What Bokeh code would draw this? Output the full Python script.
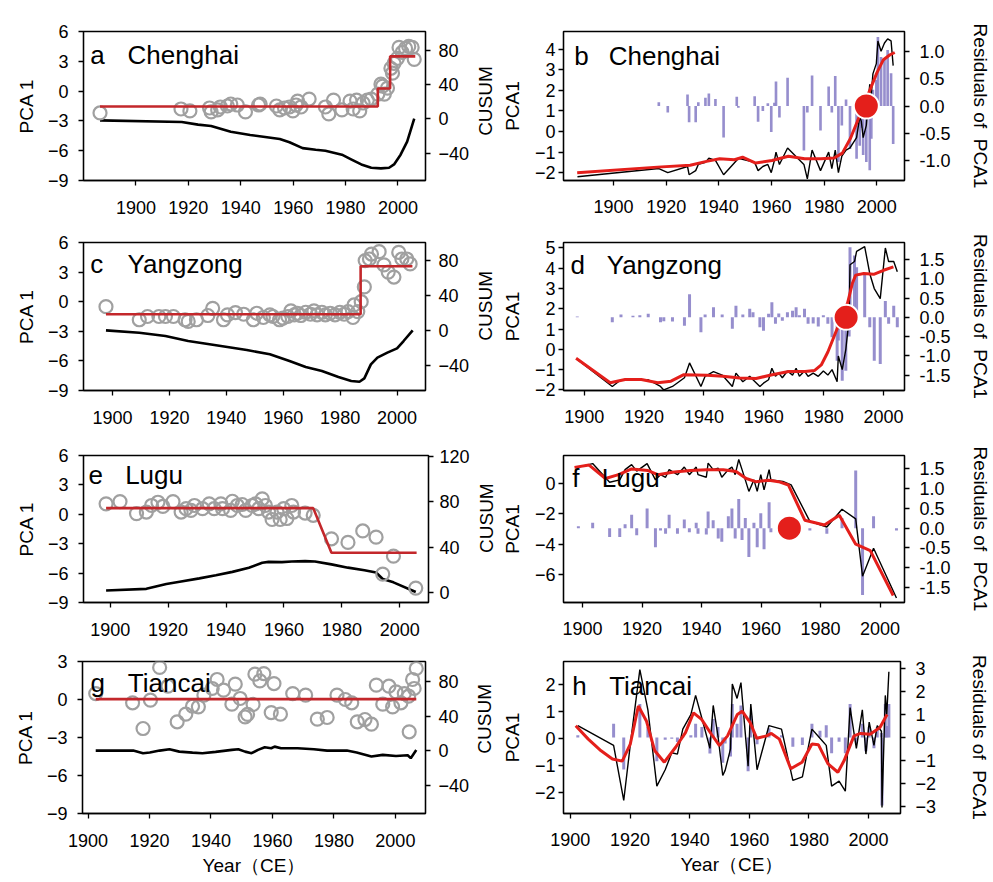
import math
from bokeh.plotting import figure
from bokeh.models import Range1d, LinearAxis, FixedTicker, Label, NumeralTickFormatter
from bokeh.layouts import column, row
from bokeh.embed import file_html
from bokeh.resources import INLINE

FONT = "Liberation Sans"
RED = "#e41f1b"
STEP_RED = "#c3272b"
PURPLE = "#8b82c8"
GRAY = "#a0a0a0"

X_TICKS = [1900, 1920, 1940, 1960, 1980, 2000]

# ---------------- Chenghai ----------------
ch_year = [1886.3, 1917.2, 1920.6, 1928.1, 1928.7, 1931.2, 1932.2, 1934.9, 1936.2, 1938.7,
           1941.8, 1946.8, 1947.4, 1953.6, 1954.9, 1956.7, 1958.6, 1959.9, 1961.1, 1961.7,
           1963.0, 1966.1, 1972.3, 1973.6, 1975.4, 1978.6, 1981.7, 1982.9, 1984.2, 1985.4,
           1986.7, 1988.3, 1989.8, 1992.3, 1993.5, 1994.1, 1994.8, 1996.0, 1997.3, 1997.9,
           1998.5, 1999.8, 2000.4, 2001.6, 2002.9, 2004.1, 2005.4, 2006.2]
ch_pca = [-2.2, -1.8, -2.0, -1.7, -2.1, -1.9, -1.6, -1.5, -1.3, -1.4,
          -2.1, -1.4, -1.3, -1.5, -1.9, -1.7, -1.6, -2.0, -1.4, -1.0,
          -1.6, -0.8, -1.6, -2.3, -0.9, -1.9, -1.0, -1.8, -0.9, -2.0,
          -1.2, -0.9, -0.8, -0.3, 0.7, 0.5, -0.3, 0.3, 2.3, 1.8,
          2.8, 3.3, 4.4, 3.9, 4.3, 4.5, 4.4, 3.2]
ch_resid = [0.0, 0.07, -0.12, 0.21, -0.3, -0.3, 0.07, 0.15, 0.23, 0.13,
            -0.58, 0.17, -0.03, 0.18, -0.29, -0.09, 0.05, -0.48, 0.06, 0.45,
            -0.21, 0.52, -0.82, -0.12, 0.56, -0.45, 0.36, -0.12, 0.55, -1.03,
            -0.36, 0.12, -0.79, -0.97, -0.73, -0.4, -0.9, -1.03, -1.18, -0.6,
            0.3, 0.48, 1.27, 0.9, 0.85, 1.03, 0.6, -0.7]
ch_fit_year = [1886.2, 1916.7, 1929.1, 1935.3, 1940.3, 1945.9, 1949.0, 1954.0, 1960.2, 1966.4,
               1972.6, 1978.8, 1983.8, 1986.9, 1990.0, 1992.5, 1995.0, 1997.5, 2000.0, 2002.5,
               2005.0, 2006.8]
ch_fit = [-2.0, -1.73, -1.64, -1.45, -1.32, -1.37, -1.25, -1.53, -1.41, -1.2,
          -1.32, -1.32, -1.29, -1.05, -0.33, 0.46, 1.26, 2.06, 2.85, 3.49,
          3.73, 3.84]
ch_cusum_year = [1886.3, 1917.5, 1923.7, 1928.7, 1936.2, 1943.6, 1948.6, 1954.9, 1958.6, 1963.6,
                 1968.6, 1972.3, 1978.6, 1982.3, 1986.0, 1989.8, 1993.5, 1996.6, 1998.5, 2001.0,
                 2003.5, 2006.2]
ch_cusum = [-1.9, -3.8, -6.9, -8.4, -15.2, -19.0, -21.0, -23.6, -27.4, -34.3,
            -36.2, -37.3, -41.9, -47.6, -53.3, -57.1, -57.9, -57.1, -53.3, -41.9,
            -26.7, 0.0]
ch_step_year = [1886.3, 1992.3, 1992.3, 1997.0, 1997.0, 2006.6]
ch_step = [-1.55, -1.55, 0.26, 0.26, 3.5, 3.5]
ch_cp_year = [1996.0]
ch_cp_res = [0.0]

# ---------------- Yangzong ----------------
yz_year = [1897.7, 1909.4, 1912.3, 1916.3, 1918.6, 1921.4, 1925.5, 1926.6, 1929.5, 1933.5,
           1935.2, 1939.0, 1940.4, 1943.2, 1946.1, 1949.5, 1950.7, 1953.0, 1955.3, 1956.4,
           1958.7, 1959.9, 1961.6, 1962.7, 1963.9, 1965.0, 1966.2, 1967.9, 1969.6, 1970.8,
           1971.9, 1973.6, 1974.8, 1976.5, 1978.2, 1979.9, 1981.4, 1982.8, 1984.5, 1984.9,
           1986.2, 1987.4, 1988.5, 1988.8, 1990.3, 1991.0, 1993.7, 1995.4, 1996.9, 1998.9,
           2000.6, 2001.7, 2003.4, 2004.6]
yz_pca = [-0.5, -1.83, -1.5, -1.5, -1.5, -1.5, -1.83, -2.0, -1.83, -1.4,
          -0.67, -1.83, -1.33, -1.1, -1.27, -1.83, -1.17, -1.6, -1.33, -1.5,
          -1.83, -1.67, -1.5, -0.93, -1.33, -1.17, -1.4, -1.07, -1.27, -0.93,
          -1.33, -1.07, -1.33, -1.17, -1.33, -1.07, -1.27, -1.0, -1.6, -0.33,
          -1.0, 0.0, 1.5, 4.17, 4.33, 4.83, 5.07, 3.73, 3.0, 2.5,
          5.0, 4.33, 4.33, 3.83]
yz_resid = [0.02, -0.13, 0.07, 0.04, 0.05, 0.09, -0.13, -0.1, -0.11, -0.22,
            0.6, -0.39, 0.07, 0.26, 0.07, -0.3, 0.3, 0.07, 0.22, 0.13,
            -0.26, -0.35, 0.09, 0.39, -0.17, 0.1, -0.09, 0.13, 0.17, 0.26,
            0.05, 0.22, -0.17, -0.16, -0.24, 0.05, -0.17, -0.52, -1.13, -0.6,
            -1.65, -1.39, -0.5, 1.82, 1.6, 1.3, 1.1, -0.26, -1.13, -1.21,
            0.42, -0.17, 0.3, -0.26]
yz_fit_year = [1897.3, 1908.7, 1913.7, 1919.1, 1924.6, 1929.0, 1933.3, 1941.0, 1946.4, 1951.9,
               1957.4, 1962.8, 1968.3, 1973.8, 1977.0, 1979.2, 1981.4, 1983.6, 1985.8, 1988.0,
               1989.6, 1990.7, 1993.4, 1996.7, 2000.0, 2003.3]
yz_fit = [-0.44, -1.65, -1.49, -1.49, -1.65, -1.57, -1.25, -1.28, -1.33, -1.41,
          -1.44, -1.25, -1.09, -1.09, -1.04, -0.77, -0.13, 0.68, 1.49, 2.29,
          3.26, 3.66, 3.74, 3.7, 3.9, 4.07]
yz_cusum_year = [1897.7, 1909.4, 1918.6, 1926.6, 1935.8, 1947.2, 1955.3, 1962.2, 1967.9, 1973.6,
                 1979.4, 1983.9, 1986.8, 1988.5, 1990.8, 1993.1, 1996.6, 2000.0, 2002.3, 2005.5]
yz_cusum = [0.0, -2.7, -6.5, -12.2, -16.8, -22.5, -27.4, -35.0, -41.9, -46.5,
            -53.3, -57.9, -58.7, -54.9, -38.9, -31.2, -25.5, -20.6, -12.2, 0.0]
yz_step_year = [1897.7, 1987.2, 1987.2, 2005.4]
yz_step = [-1.27, -1.27, 3.6, 3.6]
yz_cp_year = [1987.5]
yz_cp_res = [0.0]

# ---------------- Lugu ----------------
lg_year = [1898.6, 1903.4, 1909.1, 1912.5, 1914.3, 1916.5, 1918.2, 1921.7, 1924.5, 1926.2,
           1927.9, 1929.1, 1931.9, 1934.2, 1935.9, 1938.2, 1938.8, 1941.6, 1942.2, 1943.9,
           1945.6, 1946.8, 1949.0, 1950.2, 1951.3, 1952.5, 1953.6, 1954.7, 1955.9, 1957.6,
           1958.7, 1959.9, 1961.0, 1962.7, 1963.3, 1967.3, 1970.1, 1976.4, 1982.1, 1987.2,
           1991.8, 1994.1, 1997.8, 2005.5]
lg_pca = [1.07, 1.3, 0.07, 0.23, 0.9, 1.23, 0.8, 1.3, 0.23, 0.57,
          0.4, 0.9, 0.57, 1.07, 0.57, 1.07, 0.57, 0.4, 1.33, 0.9,
          1.0, 0.4, 0.9, 1.07, 0.57, 1.57, 0.9, 0.23, -0.53, 0.23,
          -0.53, 0.57, -0.43, 0.9, 0.23, 0.13, -0.1, -2.5, -2.87, -1.7,
          -2.33, -6.1, -4.27, -7.53]
lg_resid = [0.05, 0.14, -0.22, -0.22, 0.1, 0.34, -0.18, 0.5, -0.48, -0.06,
            -0.14, 0.34, -0.14, 0.22, -0.1, 0.14, -0.14, -0.16, 0.42, 0.2,
            -0.26, -0.34, 0.3, 0.5, -0.26, 0.74, -0.3, 0.26, -0.73, 0.14,
            -0.48, 0.38, -0.53, 0.66, -0.1, 0.0, 0.0, -0.06, -0.14, 0.26,
            1.46, -1.69, 0.3, -0.06]
lg_fit_year = [1897.3, 1902.2, 1907.7, 1912.1, 1916.5, 1922.0, 1925.3, 1930.8, 1936.3, 1941.8,
               1947.3, 1951.6, 1955.0, 1958.2, 1962.6, 1965.9, 1969.2, 1974.7, 1981.3, 1986.3,
               1991.8, 1996.7, 2004.4]
lg_fit = [1.05, 1.2, 0.32, 0.57, 0.95, 0.84, 0.57, 0.74, 0.84, 0.9,
          0.9, 0.78, 0.32, 0.11, 0.21, 0.11, -0.11, -2.42, -2.74, -2.1,
          -4.0, -4.42, -7.37]
lg_cusum_year = [1898.6, 1912.5, 1919.4, 1924.0, 1930.8, 1936.5, 1942.2, 1947.9, 1952.5, 1954.7,
                 1959.3, 1962.7, 1967.3, 1970.7, 1976.4, 1982.1, 1987.8, 1991.8, 1994.1, 1997.8,
                 2005.5]
lg_cusum = [2.0, 3.4, 7.7, 9.7, 12.6, 15.4, 18.3, 22.0, 26.3, 27.1,
            26.9, 27.4, 27.7, 27.4, 24.9, 22.0, 19.7, 17.7, 12.0, 9.1,
            0.6]
lg_step_year = [1898.6, 1970.1, 1976.4, 2005.8]
lg_step = [0.63, 0.63, -3.93, -3.93]
lg_cp_year = [1969.5]
lg_cp_res = [0.0]

# ---------------- Tiancai ----------------
tc_year = [1902.5, 1914.5, 1917.9, 1920.3, 1923.3, 1926.0, 1929.0, 1931.8, 1934.0, 1935.9,
           1937.7, 1940.4, 1942.0, 1944.1, 1946.8, 1947.9, 1949.5, 1951.1, 1951.9, 1953.7,
           1954.3, 1955.9, 1957.2, 1959.6, 1960.5, 1962.6, 1966.6, 1970.8, 1974.6, 1977.8,
           1981.0, 1983.7, 1985.8, 1987.6, 1990.1, 1992.2, 1993.8, 1995.9, 1997.9, 1999.1,
           2000.2, 2001.8, 2002.9, 2004.3, 2004.5, 2005.6, 2006.1, 2006.8]
tc_pca = [0.47, -0.26, -2.29, -0.05, 2.53, 1.05, -1.76, -1.16, -0.53, -0.58,
          0.34, 0.87, 1.58, 0.74, -0.37, 1.21, 0.08, -1.37, -1.18, -0.39,
          2.0, 1.47, 2.05, -1.03, 1.26, -1.16, 0.47, 0.34, -1.55, -1.42,
          0.34, 0.0, -0.26, -1.76, -1.58, -1.95, 1.13, -0.37, 1.05, -0.58,
          0.6, -0.26, 0.47, 0.26, -2.55, 1.58, 0.87, 2.45]
tc_resid = [0.1, 0.6, -1.4, 0.0, 1.46, 0.46, -1.04, -0.1, -0.05, -0.2,
            0.1, 0.1, 0.6, 0.46, -0.7, 0.81, 0.46, -1.1, -0.26, -0.83,
            1.46, 0.6, 1.4, -1.47, 0.96, -0.3, 0.4, 0.1, -0.4, -0.33,
            0.6, 0.3, 0.53, -0.69, -0.19, -0.69, 1.46, -0.26, 0.6, -0.6,
            0.46, -0.47, 0.46, 0.2, -2.97, 1.46, 0.5, 1.46]
tc_fit_year = [1901.8, 1906.0, 1910.3, 1914.1, 1917.4, 1920.1, 1922.8, 1925.5, 1928.3, 1931.5,
               1935.3, 1938.6, 1941.3, 1944.0, 1947.3, 1950.0, 1952.7, 1956.0, 1957.6, 1960.3,
               1962.5, 1965.8, 1967.4, 1970.1, 1973.9, 1977.7, 1981.0, 1983.2, 1986.4, 1989.7,
               1991.8, 1995.1, 1997.3, 2000.5, 2003.8, 2006.2]
tc_fit = [0.46, -0.03, -0.46, -0.76, -0.84, -0.21, 1.19, 0.64, -0.46, -0.88,
          -0.33, 0.21, 0.94, 0.7, 0.15, -0.27, 0.09, 0.88, 1.0, 0.58,
          0.0, 0.09, 0.18, -0.03, -1.12, -0.88, -0.21, -0.24, -0.94, -1.25,
          -0.82, 0.09, 0.18, 0.15, 0.4, 0.88]
tc_cusum_year = [1902.5, 1914.7, 1917.9, 1920.1, 1923.3, 1926.5, 1929.7, 1934.0, 1937.2, 1941.5,
                 1946.8, 1948.9, 1951.1, 1953.2, 1955.3, 1957.5, 1959.6, 1960.7, 1962.8, 1968.2,
                 1973.5, 1977.8, 1984.2, 1987.4, 1992.2, 1995.9, 2000.2, 2004.0, 2005.0, 2006.8]
tc_cusum = [0.0, 0.0, -3.0, -2.3, 0.0, 1.5, -1.2, -2.3, -3.0, -1.5,
            0.8, 1.5, -1.2, -3.0, 0.8, 3.8, 2.7, 4.6, 2.7, 2.7,
            1.5, 0.0, 0.0, -2.3, -6.9, -5.0, -6.2, -5.4, -8.8, 0.8]
tc_step_year = [1902.5, 2006.8]
tc_step = [0.03, 0.03]

# page geometry: left panel | CUSUM title strip | right panel
LEFT_W, STRIP_W, RIGHT_W = 472, 26, 495
RIGHT_BL, RIGHT_BR = 63, 85
TICK_FS = "18px"
LABEL_FS = "19px"


def style_axis(ax, ticks, standoff, label=None, label_standoff=5, fmt=None):
    ax.ticker = FixedTicker(ticks=ticks)
    ax.major_tick_out = 5
    ax.major_tick_in = 0
    ax.minor_tick_out = 0
    ax.minor_tick_in = 0
    ax.axis_line_color = "black"
    ax.axis_line_width = 1.3
    ax.major_tick_line_color = "black"
    ax.major_tick_line_width = 1.3
    ax.major_label_standoff = standoff
    ax.major_label_text_font = FONT
    ax.major_label_text_font_size = TICK_FS
    ax.major_label_text_color = "black"
    if fmt:
        ax.formatter = NumeralTickFormatter(format=fmt)
    if label is not None:
        ax.axis_label = label
        ax.axis_label_standoff = label_standoff
        ax.axis_label_text_font = FONT
        ax.axis_label_text_font_size = LABEL_FS
        ax.axis_label_text_font_style = "normal"
        ax.axis_label_text_color = "black"


def make_fig(w, h, bl, br, bt, bb, xr, yl, yr):
    p = figure(width=w, height=h, output_backend="svg", toolbar_location=None,
               x_range=Range1d(*xr), y_range=Range1d(*yl),
               min_border_left=bl, min_border_right=br,
               min_border_top=bt, min_border_bottom=bb)
    p.extra_y_ranges = {"r": Range1d(*yr)}
    p.xgrid.visible = False
    p.ygrid.visible = False
    p.outline_line_color = "black"
    p.outline_line_width = 1.3
    p.background_fill_color = "white"
    p.border_fill_color = "white"
    return p


def add_title(p, letter, name, dx_l, dx_n, dy, fw, fh):
    xr, yl = p.x_range, p.y_range
    sx = (xr.end - xr.start) / fw
    sy = (yl.end - yl.start) / fh
    for txt, dx in ((letter, dx_l), (name, dx_n)):
        p.add_layout(Label(x=xr.start + dx * sx, y=yl.end - dy * sy, text=txt,
                           text_font=FONT, text_font_size="26px",
                           text_baseline="alphabetic", text_align="left",
                           text_color="black"))


def cusum_strip(h, center_from_top, x_center):
    # narrow strip holding the CUSUM axis title (reads bottom-to-top)
    s = figure(width=STRIP_W, height=h, output_backend="svg", toolbar_location=None,
               x_range=Range1d(0, STRIP_W), y_range=Range1d(0, h),
               x_axis_type=None, y_axis_type=None, min_border=0)
    s.outline_line_color = None
    s.background_fill_color = "white"
    s.border_fill_color = "white"
    s.grid.visible = False
    s.add_layout(Label(x=x_center, y=h - center_from_top, text="CUSUM", angle=math.pi / 2,
                       text_font=FONT, text_font_size=LABEL_FS, text_align="center",
                       text_baseline="middle", text_color="black"))
    return s


def left_panel(h, bt, bb, bl, br, xr, yl, yr, yl_ticks, yr_ticks,
               years, pca, cy, cv, sy_, sv, letter, name, dx_l, dx_n, dy,
               r_standoff=8, xlabel=None):
    p = make_fig(LEFT_W, h, bl, br, bt, bb, xr, yl, yr)
    fw = LEFT_W - bl - br
    style_axis(p.xaxis[0], X_TICKS, 15, xlabel, 5)
    style_axis(p.yaxis[0], yl_ticks, 10, "PCA 1", 8)
    ax = LinearAxis(y_range_name="r")
    style_axis(ax, yr_ticks, r_standoff)
    p.add_layout(ax, "right")
    p.line(cy, cv, y_range_name="r", line_color="black", line_width=2.6)
    p.scatter(years, pca, size=13, fill_color=None, line_color=GRAY, line_width=2.2)
    p.line(sy_, sv, line_color=STEP_RED, line_width=2.6)
    add_title(p, letter, name, dx_l, dx_n, dy, fw, h - bt - bb)
    return p


def right_panel(h, bt, bb, xr, yl, yr, yl_ticks, yr_ticks, yr_fmt,
                years, pca, resid, fy, fv, cpx, cpy, letter, name, dx_l, dx_n, dy,
                r_label_standoff=16, xlabel=None):
    bl, br = RIGHT_BL, RIGHT_BR
    p = make_fig(RIGHT_W, h, bl, br, bt, bb, xr, yl, yr)
    style_axis(p.xaxis[0], X_TICKS, 14, xlabel, 5)
    style_axis(p.yaxis[0], yl_ticks, 3, "PCA1", 9)
    ax = LinearAxis(y_range_name="r")
    style_axis(ax, yr_ticks, 10, "Residuals of\u00a0 PCA1", r_label_standoff, fmt=yr_fmt)
    p.add_layout(ax, "right")
    p.vbar(x=years, top=resid, bottom=0, width=1.0, y_range_name="r",
           fill_color=PURPLE, line_color=None, fill_alpha=0.9)
    p.line(years, pca, line_color="black", line_width=1.4)
    p.line(fy, fv, line_color=RED, line_width=3)
    if cpx is not None:
        p.scatter(cpx, cpy, size=25, fill_color=RED, line_color="white",
                  line_width=2, y_range_name="r")
    add_title(p, letter, name, dx_l, dx_n, dy, RIGHT_W - bl - br, h - bt - bb)
    return p


XLAB = "Year\uff08CE\uff09"

pa = left_panel(225, 31, 42, 83, 40, (1880.0, 2010.5), (-9, 6), (-72, 101.7),
                [-9, -6, -3, 0, 3, 6], [-40, 0, 40, 80],
                ch_year, ch_pca, ch_cusum_year, ch_cusum, ch_step_year, ch_step,
                "a", "Chenghai", 7, 45, 24)
sa = cusum_strip(225, 105, 13)
pb = right_panel(225, 28, 45, (1881.0, 2010.5), (-2.38, 4.86), (-1.37, 1.37),
                 [-2, -1, 0, 1, 2, 3, 4], [-1.0, -0.5, 0.0, 0.5, 1.0], "0.0",
                 ch_year, ch_pca, ch_resid, ch_fit_year, ch_fit, ch_cp_year, ch_cp_res,
                 "b", "Chenghai", 11, 46, 25)
pc = left_panel(215, 17, 48, 83, 40, (1889.8, 2010.0), (-9, 6), (-68.7, 100.3),
                [-9, -6, -3, 0, 3, 6], [-40, 0, 40, 80],
                yz_year, yz_pca, yz_cusum_year, yz_cusum, yz_step_year, yz_step,
                "c", "Yangzong", 7, 45, 22)
sc = cusum_strip(215, 92, 13)
pd_ = right_panel(215, 15, 50, (1893.1, 2007.0), (-2.03, 5.27), (-1.90, 1.94),
                  [-2, -1, 0, 1, 2, 3, 4, 5], [-1.5, -1.0, -0.5, 0.0, 0.5, 1.0, 1.5], "0.0",
                  yz_year, yz_pca, yz_resid, yz_fit_year, yz_fit, yz_cp_year, yz_cp_res,
                  "d", "Yangzong", 7, 44, 23)
pe = left_panel(210, 15, 46, 83, 41, (1890.8, 2009.9), (-9, 6), (-8.6, 120.5),
                [-9, -6, -3, 0, 3, 6], [0, 40, 80, 120],
                lg_year, lg_pca, lg_cusum_year, lg_cusum, lg_step_year, lg_step,
                "e", "Lugu", 5, 42, 20, r_standoff=6)
se = cusum_strip(210, 89.5, 14)
pf = right_panel(210, 9, 48, (1893.6, 2008.2), (-7.83, 1.83), (-1.88, 1.84),
                 [-6, -4, -2, 0], [-1.5, -1.0, -0.5, 0.0, 0.5, 1.0, 1.5], "0.0",
                 lg_year, lg_pca, lg_resid, lg_fit_year, lg_fit, lg_cp_year, lg_cp_res,
                 "f", "Lugu", 9, 39, 23)
pg = left_panel(232, 11, 68, 82, 42, (1898.2, 2009.8), (-9, 3), (-73, 103.4),
                [-9, -6, -3, 0, 3], [-40, 0, 40, 80],
                tc_year, tc_pca, tc_cusum_year, tc_cusum, tc_step_year, tc_step,
                "g", "Tiancai", 8, 46, 22, xlabel=XLAB)
sg = cusum_strip(232, 87.5, 12)
ph = right_panel(232, 10, 69, (1897.7, 2010.7), (-2.77, 2.83), (-3.32, 3.32),
                 [-2, -1, 0, 1, 2], [-3, -2, -1, 0, 1, 2, 3], None,
                 tc_year, tc_pca, tc_resid, tc_fit_year, tc_fit, None, None,
                 "h", "Tiancai", 9, 47, 25, r_label_standoff=30, xlabel=XLAB)

layout = column(row(pa, sa, pb), row(pc, sc, pd_), row(pe, se, pf), row(pg, sg, ph))

with open("out.html", "w") as f:
    f.write(file_html(layout, INLINE))
